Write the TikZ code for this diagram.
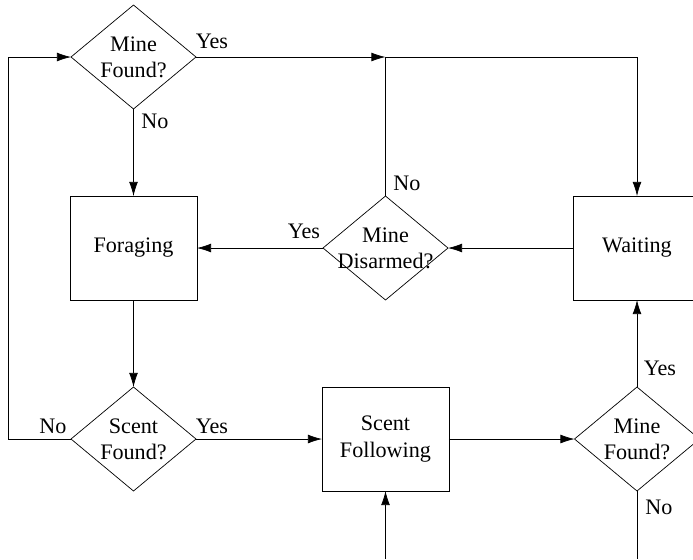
\documentclass[tikz,border=0pt]{standalone}
\usepackage{fontspec}
\setmainfont{Liberation Serif}
\usepackage{tikz}
\usetikzlibrary{arrows.meta}
\pgfdeclarelayer{nodelayer}
\pgfdeclarelayer{edgelayer}
\pgfsetlayers{nodelayer,edgelayer,main}
\tikzset{
    none/.style = {inner sep=0pt},
    box/.style = {draw, minimum width=2.54cm, minimum height=2.08cm, align=center, outer sep=0pt},
    decision/.style = {minimum width=2.5cm, minimum height=2.08cm, inner sep=0pt, outer sep=0pt, align=center},
    flow/.style = {-{Latex[length=8pt,width=5pt]}}
}

\begin{document}
\begin{tikzpicture}[x=0.02cm, y=-0.02cm, line width=0.65pt, font=\fontsize{12.6}{14.9}\selectfont]
    \useasboundingbox (0, 0) rectangle (693, 559);
    \begin{pgfonlayer}{nodelayer}
        \node [style=decision] (0) at (133.5, 57) {Mine\\Found?};
        \node [style=box] (1) at (133.5, 248) {Foraging};
        \node [style=decision] (2) at (385.5, 248) {Mine\\Disarmed?};
        \node [style=box] (3) at (637, 248) {Waiting};
        \node [style=decision] (4) at (133.5, 439) {Scent\\Found?};
        \node [style=box] (5) at (385.5, 439) {Scent\\Following};
        \node [style=decision] (6) at (637, 439) {Mine\\Found?};
        \coordinate (7) at (385.5, 57);
        \coordinate (8) at (8, 57);
        \coordinate (9) at (8, 439);
        \coordinate (10) at (385.5, 559);
        \coordinate (11) at (637, 559);
        % branch labels
        \node [style=none, anchor=base] (12) at (212, 48) {Yes};
        \node [style=none, anchor=base] (13) at (155, 128) {No};
        \node [style=none, anchor=base] (14) at (407, 190) {No};
        \node [style=none, anchor=base] (15) at (304, 238) {Yes};
        \node [style=none, anchor=base] (16) at (53, 433) {No};
        \node [style=none, anchor=base] (17) at (212, 433) {Yes};
        \node [style=none, anchor=base] (18) at (660, 375) {Yes};
        \node [style=none, anchor=base] (19) at (659, 514) {No};
    \end{pgfonlayer}
    \begin{pgfonlayer}{edgelayer}
        % decision outlines
        \foreach \n in {0, 2, 4, 6}
            \draw (\n.north) -- (\n.east) -- (\n.south) -- (\n.west) -- cycle;
        \draw [style=flow] (0.south) to (1.north);
        \draw [style=flow] (0.east) to (7);
        \draw (2.north) to (7);
        \draw [style=flow] (7) -| (3.north);
        \draw [style=flow] (3.west) to (2.east);
        \draw [style=flow] (2.west) to (1.east);
        \draw [style=flow] (1.south) to (4.north);
        % loop back when no scent
        \draw [style=flow] (4.west) -- (9) -- (8) -- (0.west);
        \draw [style=flow] (4.east) to (5.west);
        \draw [style=flow] (10) to (5.south);
        \draw [style=flow] (5.east) to (6.west);
        \draw [style=flow] (6.north) to (3.south);
        \draw (6.south) to (11);
    \end{pgfonlayer}
\end{tikzpicture}
\end{document}
